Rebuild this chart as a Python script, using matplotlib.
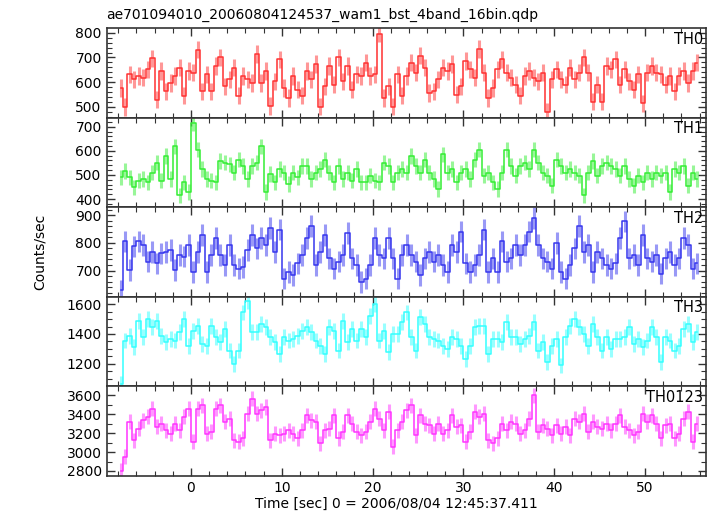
import numpy as np
import matplotlib
matplotlib.use("Agg")
import matplotlib.pyplot as plt
from matplotlib.ticker import MultipleLocator

# light curve of WAM bst data, 0.5 s bins, counts/sec per band
bin_width = 0.5
t_start = -7.75

th0 = [577, 500, 632, 611, 625, 618, 652, 696, 529, 645, 563, 597, 625, 659, 545, 645,
       638, 732, 563, 632, 563, 666, 700, 584, 611, 659, 545, 625, 611, 597, 714, 597,
       645, 504, 604, 693, 577, 536, 625, 570, 545, 645, 611, 673, 501, 584, 666, 590,
       700, 604, 666, 570, 632, 625, 679, 625, 632, 796, 536, 584, 501, 632, 545, 625,
       679, 638, 707, 659, 556, 563, 611, 659, 645, 673, 549, 584, 686, 652, 618, 734,
       638, 536, 577, 652, 693, 638, 618, 590, 545, 625, 645, 618, 604, 638, 481, 611,
       652, 611, 590, 659, 611, 638, 700, 638, 522, 590, 522, 666, 652, 693, 590, 652,
       604, 570, 632, 515, 638, 666, 638, 632, 590, 625, 563, 625, 645, 597, 645, 679]

th1 = [490, 517, 490, 449, 476, 483, 469, 510, 551, 476, 578, 483, 619, 415, 469, 429,
       714, 605, 524, 483, 476, 469, 558, 551, 544, 510, 564, 537, 483, 537, 551, 619,
       429, 503, 469, 524, 510, 463, 510, 490, 537, 537, 483, 510, 524, 564, 510, 469,
       537, 483, 510, 476, 524, 469, 469, 497, 476, 469, 551, 537, 469, 510, 524, 510,
       578, 537, 510, 564, 510, 483, 442, 585, 510, 524, 469, 510, 524, 483, 564, 605,
       497, 510, 469, 442, 510, 605, 537, 497, 537, 551, 524, 605, 551, 510, 497, 456,
       564, 537, 510, 524, 510, 497, 415, 510, 558, 497, 537, 551, 537, 524, 497, 537,
       483, 456, 497, 469, 510, 483, 510, 497, 510, 429, 524, 510, 537, 456, 510, 483]

th2 = [628, 805, 701, 787, 805, 793, 732, 768, 726, 762, 768, 774, 701, 756, 750, 793,
       695, 768, 829, 695, 756, 817, 756, 720, 793, 720, 707, 713, 774, 829, 780, 817,
       793, 854, 768, 848, 671, 695, 683, 726, 756, 817, 860, 720, 768, 829, 744, 707,
       732, 756, 835, 744, 720, 659, 671, 720, 817, 756, 744, 817, 744, 671, 756, 793,
       756, 732, 683, 744, 768, 732, 756, 720, 695, 793, 768, 841, 726, 695, 720, 756,
       848, 695, 744, 695, 805, 732, 744, 793, 756, 793, 841, 890, 793, 744, 732, 707,
       799, 695, 671, 720, 780, 860, 768, 793, 695, 768, 744, 720, 707, 726, 817, 878,
       744, 756, 720, 829, 744, 732, 756, 689, 744, 768, 720, 744, 817, 793, 707, 726]

th3 = [1067, 1356, 1389, 1311, 1489, 1378, 1500, 1444, 1489, 1389, 1344, 1367, 1356, 1411, 1500, 1322,
       1422, 1456, 1333, 1322, 1456, 1378, 1344, 1433, 1289, 1200, 1289, 1544, 1622, 1411, 1411, 1467,
       1444, 1378, 1344, 1267, 1378, 1356, 1367, 1389, 1422, 1444, 1411, 1356, 1322, 1267, 1444, 1422,
       1289, 1489, 1344, 1433, 1356, 1433, 1378, 1522, 1600, 1356, 1422, 1278, 1400, 1400, 1478, 1544,
       1378, 1289, 1511, 1467, 1378, 1367, 1356, 1322, 1300, 1378, 1367, 1322, 1233, 1322, 1444, 1456,
       1456, 1267, 1367, 1367, 1344, 1478, 1378, 1378, 1333, 1367, 1389, 1478, 1289, 1344, 1211, 1322,
       1367, 1189, 1378, 1456, 1500, 1444, 1400, 1322, 1467, 1378, 1289, 1378, 1300, 1367, 1367, 1378,
       1444, 1333, 1367, 1311, 1356, 1444, 1378, 1211, 1378, 1356, 1289, 1322, 1433, 1467, 1344, 1411]

th0123 = [2800, 2950, 3319, 3126, 3249, 3337, 3372, 3460, 3267, 3302, 3232, 3196, 3302, 3232, 3372, 3460,
          3109, 3460, 3495, 3196, 3214, 3460, 3495, 3319, 3354, 3126, 3109, 3144, 3407, 3565, 3407, 3442,
          3477, 3126, 3196, 3179, 3196, 3232, 3196, 3144, 3232, 3389, 3337, 3319, 3091, 3232, 3249, 3389,
          3144, 3214, 3389, 3302, 3214, 3179, 3214, 3319, 3460, 3354, 3232, 3425, 3056, 3232, 3319, 3442,
          3495, 3179, 3389, 3302, 3284, 3196, 3302, 3196, 3232, 3389, 3267, 3284, 3109, 3214, 3425, 3372,
          3407, 3126, 3091, 3144, 3302, 3232, 3319, 3302, 3196, 3232, 3354, 3600, 3214, 3284, 3249, 3179,
          3284, 3196, 3267, 3179, 3354, 3319, 3407, 3214, 3319, 3267, 3249, 3302, 3232, 3302, 3389, 3267,
          3232, 3179, 3214, 3407, 3319, 3389, 3302, 3144, 3284, 3302, 3144, 3196, 3354, 3425, 3109, 3302]

series = [th0, th1, th2, th3, th0123]
names = ['TH0', 'TH1', 'TH2', 'TH3', 'TH0123']
errors = [35, 32, 39, 53, 80]   # typical 1-sigma bar per band
colors = ['#ff3030', '#33ee33', '#3535ee', '#33ffff', '#ff33ff']
ylims = [(457, 819), (366, 738), (605, 929), (1049, 1649), (2747, 3695)]
ymajor = [100, 100, 100, 200, 200]
yminor = [20, 20, 20, 50, 100]

t = t_start + bin_width * np.arange(len(th0))

fig = plt.figure(figsize=(7.17, 5.16), dpi=100)
left, right = 106.5 / 717, 706 / 717
bottom, top = 1 - 476 / 516, 1 - 28 / 516
h = (top - bottom) / 5

for k in range(5):
    ax = fig.add_axes([left, top - (k + 1) * h, right - left, h])
    y = np.array(series[k])
    ax.errorbar(t, y, yerr=errors[k], fmt='none', ecolor=colors[k], alpha=0.5, elinewidth=2.2)
    ax.step(t, y, where='mid', color=colors[k], lw=1.1)
    ax.set_xlim(-9.3, 56.7)
    ax.set_ylim(*ylims[k])
    ax.xaxis.set_major_locator(MultipleLocator(10))
    ax.xaxis.set_minor_locator(MultipleLocator(2))
    ax.yaxis.set_major_locator(MultipleLocator(ymajor[k]))
    ax.yaxis.set_minor_locator(MultipleLocator(yminor[k]))
    ax.tick_params(which='both', direction='in', top=True, right=True, colors='#333333',
                   labelcolor='black', labelsize=10)
    ax.tick_params(which='major', length=6, width=1)
    ax.tick_params(which='minor', length=3.5, width=0.8)
    for s in ax.spines.values():
        s.set_color('#333333')
        s.set_linewidth(1.2)
    if k < 4:
        ax.tick_params(labelbottom=False)
    ax.text(0.995, 0.96, names[k], transform=ax.transAxes, ha='right', va='top', fontsize=10.5)

fig.text(left, 1 - 19 / 516, 'ae701094010_20060804124537_wam1_bst_4band_16bin.qdp',
         ha='left', va='baseline', fontsize=10)
fig.text(396 / 717, 1 - 508 / 516, 'Time [sec] 0 = 2006/08/04 12:45:37.411',
         ha='center', va='baseline', fontsize=10)
fig.text(40 / 717, 1 - 252 / 516, 'Counts/sec', rotation=90, ha='center', va='center', fontsize=10)

fig.savefig('out.png', dpi=100)
